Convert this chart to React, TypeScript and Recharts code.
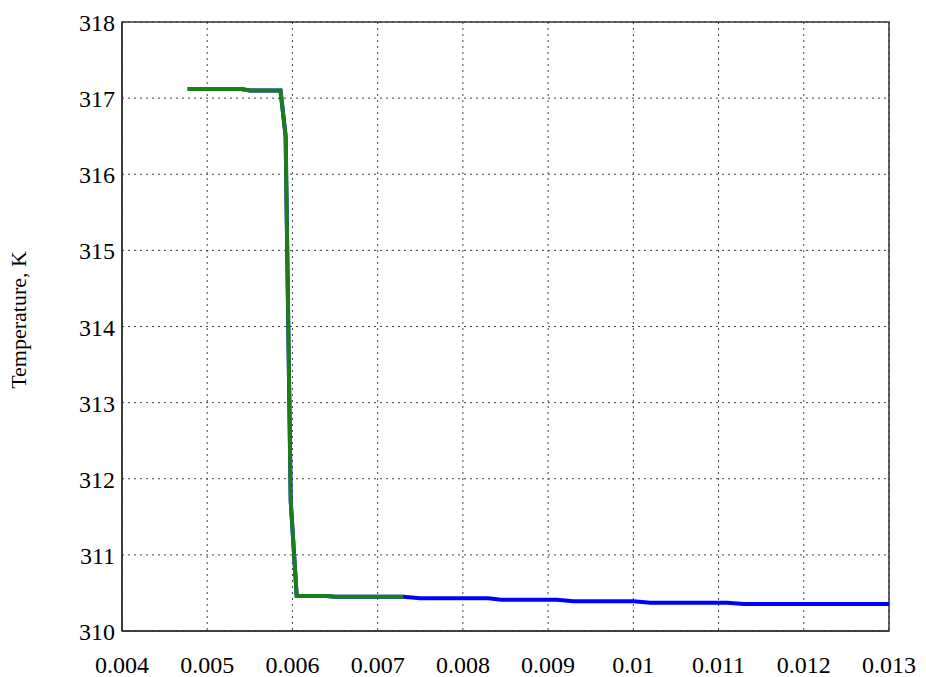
import React from 'react';
import { LineChart, Line, XAxis, YAxis, CartesianGrid, ReferenceArea, Label } from 'recharts';

const xTicks = [0.004, 0.005, 0.006, 0.007, 0.008, 0.009, 0.01, 0.011, 0.012, 0.013];
const yTicks = [310, 311, 312, 313, 314, 315, 316, 317, 318];

const greenX = [0.00477, 0.0054, 0.0055, 0.00586, 0.00592, 0.00598, 0.00605, 0.0064, 0.0065, 0.0073];
const greenY = [317.12, 317.12, 317.1, 317.1, 316.5, 311.7, 310.46, 310.46, 310.45, 310.45];

const blueX = [0.00477, 0.0054, 0.0055, 0.00586, 0.00592, 0.00598, 0.00605, 0.0064, 0.0065, 0.0073, 0.0075, 0.0083, 0.00845, 0.0091, 0.0093, 0.01, 0.0102, 0.0111, 0.0113, 0.013];
const blueY = [317.12, 317.12, 317.1, 317.1, 316.5, 311.7, 310.46, 310.46, 310.45, 310.45, 310.43, 310.43, 310.41, 310.41, 310.39, 310.39, 310.37, 310.37, 310.355, 310.355];

const greenData = greenX.map((x, i) => ({ x, y: greenY[i] }));
const blueData = blueX.map((x, i) => ({ x, y: blueY[i] }));

const FF = "'Liberation Serif', 'Times New Roman', 'DejaVu Serif', serif";
const FS = 24;
const textStyle: React.CSSProperties = { fontFamily: FF, fontSize: FS, fill: '#000' };

const renderXTick = (props: any) => {
  const { x, y, payload } = props;
  return (
    <text x={x} y={y + 40} textAnchor="middle" style={textStyle}>
      {String(payload.value)}
    </text>
  );
};

const renderYTick = (props: any) => {
  const { y, payload } = props;
  return (
    <text x={115} y={y + 9} textAnchor="end" style={textStyle}>
      {String(payload.value)}
    </text>
  );
};

const renderYLabel = () => {
  const cx = 26;
  const cy = 320;
  return (
    <text x={cx} y={cy} transform={`rotate(-90, ${cx}, ${cy})`} textAnchor="middle" style={{ ...textStyle, fontSize: 22 }}>
      Temperature, K
    </text>
  );
};

export default function App() {
  return (
    <div style={{ position: 'absolute', left: 0, top: 0, background: '#fff', fontFamily: FF }}>
      <LineChart width={926} height={677} margin={{ top: 22, right: 37, bottom: 0, left: 0 }}>
        <CartesianGrid stroke="#444" strokeDasharray="2 4" strokeWidth={1} />
        <XAxis
          dataKey="x"
          type="number"
          domain={[0.004, 0.013]}
          ticks={xTicks}
          allowDataOverflow
          height={46}
          tickSize={0}
          axisLine={{ stroke: '#333', strokeWidth: 1.5 }}
          tick={renderXTick}
        />
        <YAxis
          dataKey="y"
          type="number"
          domain={[310, 318]}
          ticks={yTicks}
          allowDataOverflow
          width={122}
          tickSize={0}
          axisLine={{ stroke: '#333', strokeWidth: 1.5 }}
          tick={renderYTick}
        >
          <Label content={renderYLabel} />
        </YAxis>
        <ReferenceArea x1={0.004} x2={0.013} y1={310} y2={318} fill="none" stroke="#333" strokeWidth={1.5} ifOverflow="visible" />
        <Line data={blueData} dataKey="y" type="linear" stroke="#0000ff" strokeWidth={4} dot={false} isAnimationActive={false} />
        <Line data={greenData} dataKey="y" type="linear" stroke="#1a7f1a" strokeWidth={4} dot={false} isAnimationActive={false} />
      </LineChart>
    </div>
  );
}
